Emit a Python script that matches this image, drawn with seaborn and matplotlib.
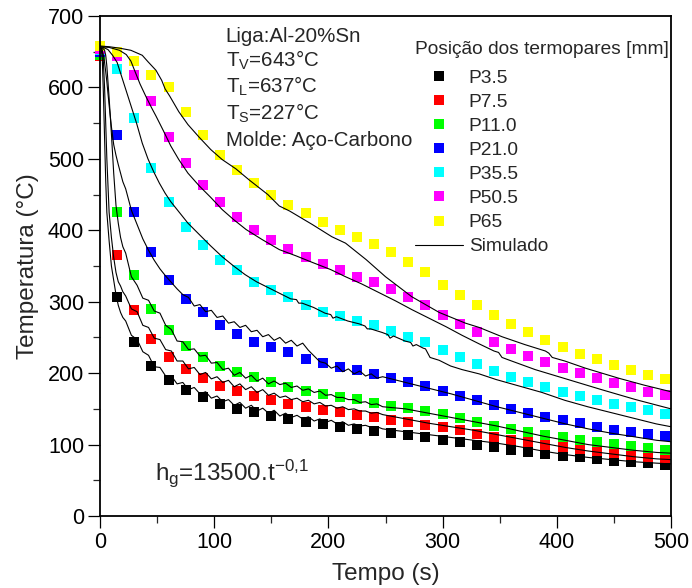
import numpy as np
import pandas as pd
import seaborn as sns
import matplotlib.pyplot as plt
from matplotlib.lines import Line2D
from matplotlib.ticker import MultipleLocator

# ---------------- experimental data (thermocouples, every 15 s) ----------------
exp_time = list(range(0, 500, 15))
series = ["P3.5", "P7.5", "P11.0", "P21.0", "P35.5", "P50.5", "P65"]
colors = ["#000000", "#ff0000", "#00ff00", "#0000ff", "#00ffff", "#ff00ff", "#ffff00"]

p3_5 = [648, 306, 244, 210, 191, 177, 166, 157, 150, 145, 140, 136, 132, 129, 125, 122, 119,
        116, 113, 110, 107, 103, 100, 97, 93, 90, 87, 84, 82, 80, 77, 75, 74, 72]
p7_5 = [644, 365, 289, 248, 223, 206, 193, 182, 175, 168, 163, 157, 153, 149, 145, 142, 138,
        135, 132, 128, 124, 120, 115, 111, 107, 103, 100, 97, 94, 91, 88, 86, 83, 81]
p11_0 = [646, 426, 337, 290, 261, 238, 223, 210, 202, 195, 188, 181, 175, 171, 167, 164, 158,
         154, 151, 147, 143, 137, 132, 126, 122, 118, 114, 111, 107, 104, 101, 98, 95, 93]
p21_0 = [649, 534, 425, 369, 331, 304, 285, 268, 255, 244, 236, 229, 220, 214, 209, 205, 199,
         193, 188, 182, 175, 168, 163, 156, 150, 144, 139, 134, 130, 125, 121, 118, 115, 112]
p35_5 = [652, 626, 557, 487, 439, 405, 380, 359, 344, 328, 317, 306, 296, 286, 280, 273, 268,
         259, 251, 243, 232, 223, 213, 203, 195, 188, 181, 174, 168, 163, 157, 153, 148, 143]
p50_5 = [654, 644, 618, 581, 531, 494, 463, 439, 418, 401, 387, 374, 363, 353, 344, 335, 327,
         318, 307, 295, 282, 269, 257, 244, 234, 224, 215, 207, 200, 193, 186, 180, 174, 170]
p65 = [658, 649, 637, 618, 600, 565, 534, 506, 484, 466, 450, 435, 424, 411, 401, 391, 381,
       370, 356, 341, 324, 310, 296, 282, 269, 257, 247, 236, 227, 220, 212, 205, 198, 192]
exp_values = [p3_5, p7_5, p11_0, p21_0, p35_5, p50_5, p65]

# ---------------- simulated curves ----------------
low_t = ([0, 1, 2, 3, 4, 5, 6, 8, 10, 12, 14, 16, 18, 20]
         + list(np.arange(22.5, 250, 5)) + list(np.arange(267.5, 500, 20)) + [500])

sim_p3_5 = [656, 655, 640, 590, 530, 470, 425, 385, 350, 330, 310, 295, 285, 278,
            273, 253, 247, 230, 225, 209, 208, 196, 196, 185, 187, 177, 180, 171, 174, 165,
            168, 160, 163, 155, 159, 151, 155, 147, 151, 144, 148, 140, 144, 138, 141, 136,
            139, 133, 136, 131, 134, 129, 132, 127, 129, 126, 127, 124, 125, 122,
            118, 114, 110, 106, 102, 97, 91, 86, 82, 79, 76, 74, 73]
sim_p7_5 = [656, 655, 652, 635, 600, 550, 500, 425, 390, 362, 341, 328, 322, 314,
            308, 290, 286, 267, 264, 249, 247, 233, 231, 217, 217, 206, 208, 198, 201, 192,
            195, 187, 190, 181, 185, 177, 181, 173, 177, 169, 172, 166, 168, 163, 165, 160,
            162, 157, 159, 154, 155, 151, 153, 149, 150, 147, 147, 144, 145, 142,
            136, 130, 125, 120, 114, 108, 102, 96, 91, 87, 83, 80, 79]
sim_p11_0 = [656, 655, 655, 654, 652, 645, 630, 585, 535, 480, 435, 410, 390, 377,
             368, 335, 323, 305, 302, 287, 284, 267, 261, 245, 244, 233, 234, 224, 225, 214,
             215, 205, 207, 197, 201, 193, 197, 189, 193, 185, 189, 184, 186, 180, 182, 176,
             178, 173, 175, 169, 170, 166, 166, 163, 163, 159, 160, 156, 157, 153,
             150, 144, 138, 132, 126, 119, 112, 106, 100, 96, 92, 89, 88]
sim_p21_0 = [656, 655, 652, 645, 635, 622, 608, 575, 545, 520, 505, 492, 480, 468,
             458, 428, 408, 388, 372, 358, 346, 336, 327, 318, 310,
             306, 294, 296, 286, 288, 278, 280, 270, 272, 264, 267, 258, 260, 251, 254, 246,
             250, 242, 246, 238, 242, 232, 224, 216, 214, 207, 210, 202, 206, 199, 203, 196,
             199, 193, 195,
             187, 179, 171, 162, 153, 145, 137, 129, 122, 116, 111, 106, 104]

cyan_t = [0, 3, 7, 11, 15, 19, 23, 27, 32, 37, 42, 47, 52, 57, 62, 67, 77, 87, 97, 107,
          117, 127, 137, 147, 157, 167, 172, 174, 177, 187, 197, 202, 204, 207, 217, 227,
          232, 234, 237, 247, 252, 254, 257, 267, 272, 274, 277, 283, 285, 289, 297, 307,
          317, 332, 347, 367, 387, 407, 427, 447, 467, 487, 500]
sim_p35_5 = [657, 656, 653, 645, 635, 615, 595, 575, 550, 522, 500, 482, 466, 452, 440, 430,
             410, 394, 378, 363, 350, 338, 328, 320, 312, 304, 303, 298, 298, 292, 284, 282,
             277, 279, 273, 269, 266, 262, 262, 257, 254, 249, 252, 245, 243, 238, 240, 235,
             234, 222, 218, 210, 205, 199, 191, 182, 173, 162, 153, 145, 137, 129, 125]

mag_t = [0, 8, 17, 23, 27, 31, 35, 40, 45, 49, 55, 62, 69, 77, 87, 97, 107, 117, 128, 142,
         157, 172, 186, 202, 215, 229, 244, 259, 273, 288, 303, 317, 332, 345, 349, 352, 357,
         381, 410, 439, 469, 500]
sim_p50_5 = [657, 656, 652, 646, 637, 621, 605, 588, 572, 560, 541, 518, 499, 480, 462, 446,
             429, 415, 401, 387, 373, 364, 355, 345, 335, 325, 313, 301, 289, 277, 265, 253,
             241, 231, 229, 222, 219, 205, 191, 177, 163, 150]

yel_t = [0, 8, 17, 27, 37, 42, 49, 54, 57, 61, 69, 77, 87, 97, 107, 119, 131, 147, 157, 166,
         186, 203, 215, 233, 250, 273, 297, 320, 332, 352, 372, 390, 393, 396, 407, 425, 454,
         477, 500]
sim_p65 = [658, 657, 655, 652, 645, 636, 624, 610, 598, 588, 566, 548, 530, 513, 499, 486,
           470, 450, 434, 427, 408, 391, 382, 359, 335, 307, 285, 270, 264, 251, 240, 231,
           228, 222, 217, 207, 193, 183, 174]

sim_times = [low_t, low_t, low_t, low_t, cyan_t, mag_t, yel_t]
sim_values = [sim_p3_5, sim_p7_5, sim_p11_0, sim_p21_0, sim_p35_5, sim_p50_5, sim_p65]

# ---------------- long tables ----------------
df_exp = pd.concat([pd.DataFrame({"tempo": exp_time, "temp": v, "serie": s})
                    for s, v in zip(series, exp_values)], ignore_index=True)
df_sim = pd.concat([pd.DataFrame({"tempo": t, "temp": v, "serie": s})
                    for s, t, v in zip(series, sim_times, sim_values)], ignore_index=True)

# ---------------- plot ----------------
sns.set_theme(style="ticks")
plt.rcParams["font.family"] = ["Liberation Sans", "DejaVu Sans"]
plt.rcParams["mathtext.default"] = "regular"

fig = plt.figure(figsize=(6.92, 5.88), dpi=100)
ax = fig.add_axes([0.1445, 0.1224, 0.8252, 0.8504])

sns.scatterplot(data=df_exp, x="tempo", y="temp", hue="serie", hue_order=series,
                palette=colors, marker="s", s=52, linewidth=0, edgecolor="none",
                legend=False, ax=ax, zorder=2, clip_on=False)
sns.lineplot(data=df_sim, x="tempo", y="temp", units="serie", estimator=None,
             color="black", lw=0.8, sort=False, legend=False, ax=ax, zorder=3)

ax.set_xlim(0, 500)
ax.set_ylim(0, 700)
ax.xaxis.set_major_locator(MultipleLocator(100))
ax.xaxis.set_minor_locator(MultipleLocator(50))
ax.yaxis.set_major_locator(MultipleLocator(100))
ax.yaxis.set_minor_locator(MultipleLocator(50))
ax.tick_params(which="major", direction="out", length=8.5, width=0.9, labelsize=15.5,
               pad=3, colors="black")
ax.tick_params(which="minor", direction="out", length=5, width=0.9)
for sp in ax.spines.values():
    sp.set_visible(True)
    sp.set_linewidth(1.3)
    sp.set_color("black")

ax.set_xlabel("Tempo (s)", fontsize=17.5, labelpad=7)
ax.set_ylabel("Temperatura (°C)", fontsize=17.5, labelpad=6)

# annotations
tx = 110
fs_txt = 14.8
ax.text(tx, 663, "Liga:Al-20%Sn", fontsize=fs_txt, va="baseline")
ax.text(tx, 629, r"T$_V$=643°C", fontsize=fs_txt, va="baseline")
ax.text(tx, 592, r"T$_L$=637°C", fontsize=fs_txt, va="baseline")
ax.text(tx, 555, r"T$_S$=227°C", fontsize=fs_txt, va="baseline")
ax.text(tx, 518, "Molde: Aço-Carbono", fontsize=fs_txt, va="baseline")
ax.text(48, 50, r"h$_g$=13500.t$^{-0{,}1}$", fontsize=17.5, va="baseline")

# legend
handles = [Line2D([], [], ls="none", marker="s", markersize=6.5, color=c, markeredgewidth=0)
           for c in colors]
handles.append(Line2D([], [], color="black", lw=0.8))
leg = ax.legend(handles, series + ["Simulado"], title="Posição dos termopares [mm]",
                loc="upper right", bbox_to_anchor=(0.9965, 0.95), frameon=False,
                fontsize=13.8, title_fontsize=13.8, handlelength=2.5, handletextpad=0.3,
                labelspacing=0.35, borderpad=0, borderaxespad=0, alignment="left")
leg._legend_box.sep = 8

fig.savefig("out.png", dpi=100)
